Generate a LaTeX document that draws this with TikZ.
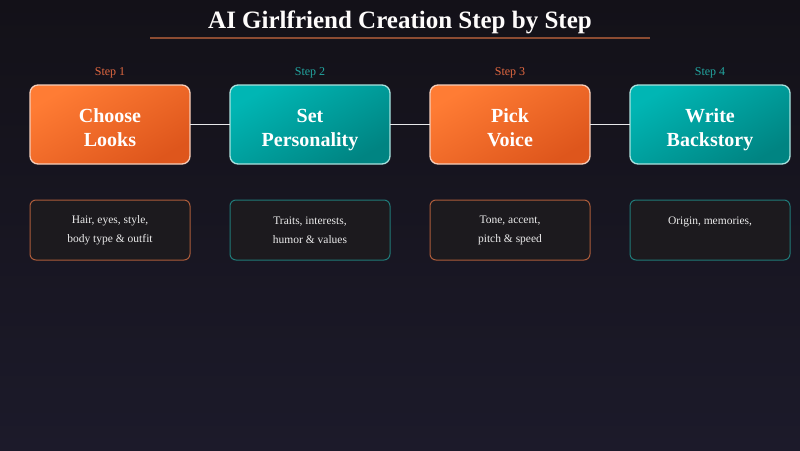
\documentclass[tikz,border=0pt]{standalone}
\usepackage{fontspec}
\setmainfont{Liberation Serif}
\usepackage{xcolor}
\usepackage{tikz}
\usetikzlibrary{positioning}
\definecolor{gfnight}{RGB}{19, 17, 24}
\definecolor{gfdusk}{RGB}{28, 26, 42}
\definecolor{gforange}{RGB}{255, 124, 52}
\definecolor{gforangedeep}{RGB}{222, 86, 28}
\definecolor{gfteal}{RGB}{0, 182, 180}
\definecolor{gftealdeep}{RGB}{0, 132, 130}
\definecolor{gfcard}{RGB}{28, 26, 30}
\definecolor{gfrule}{RGB}{140, 76, 50}
\definecolor{gfpeach}{RGB}{246, 206, 186}
\definecolor{gfmint}{RGB}{170, 226, 222}
\definecolor{gfsteporange}{RGB}{226, 104, 64}
\definecolor{gfstepteal}{RGB}{34, 166, 160}
\definecolor{gfcardorange}{RGB}{172, 92, 58}
\definecolor{gfcardteal}{RGB}{32, 122, 120}

\begin{document}
\begin{tikzpicture}[x=1pt, y=1pt, node distance=40pt,
    stepbox/.style={draw, line width=1.3pt, outer sep=0pt, rounded corners=8pt, minimum width=160pt, minimum height=79pt, align=center, text height=47pt, text depth=4pt, text=white, font=\fontsize{20}{24}\selectfont\bfseries},
    warm/.style={stepbox, draw=gfpeach, top color=gforange, bottom color=gforangedeep, shading angle=30},
    cool/.style={stepbox, draw=gfmint, top color=gfteal, bottom color=gftealdeep, shading angle=30},
    steptag/.style={inner sep=0pt, font=\fontsize{12}{14}\selectfont},
    card/.style={draw, line width=1pt, outer sep=0pt, rounded corners=6pt, fill=gfcard, minimum width=160pt, minimum height=60pt, align=center, text=white!92!black, font=\fontsize{11.5}{19}\selectfont},
    link/.style={line width=1.6pt, white!90!gfdusk}]
    % backdrop
    \shade [top color=gfnight, bottom color=gfdusk] (0,0) rectangle (800,-450);
    \useasboundingbox (0,0) rectangle (800,-450);

    % title
    \node [text=white!94!gfpeach, font=\fontsize{25}{28}\selectfont\bfseries] (title) at (400,-22) {AI Girlfriend Creation Step by Step};
    \draw [gfrule, line width=1.4pt] (150,-38) -- (650,-38);

    % steps
    \node [warm] (looks) at (110,-124.5) {Choose\\Looks};
    \node [cool, right=of looks] (persona) {Set\\Personality};
    \node [warm, right=of persona] (voice) {Pick\\Voice};
    \node [cool, right=of voice] (story) {Write\\Backstory};

    \node [steptag, gfsteporange, above=7pt of looks] (tag1) {Step 1};
    \node [steptag, gfstepteal, above=7pt of persona] (tag2) {Step 2};
    \node [steptag, gfsteporange, above=7pt of voice] (tag3) {Step 3};
    \node [steptag, gfstepteal, above=7pt of story] (tag4) {Step 4};

    \draw [link] (looks) -- (persona);
    \draw [link] (persona) -- (voice);
    \draw [link] (voice) -- (story);

    % details
    \node [card, draw=gfcardorange, below=36pt of looks] (looksinfo) {Hair, eyes, style,\\body type \& outfit};
    \node [card, draw=gfcardteal, below=36pt of persona] (personainfo) {Traits, interests,\\humor \& values};
    \node [card, draw=gfcardorange, below=36pt of voice] (voiceinfo) {Tone, accent,\\pitch \& speed};
    \node [card, draw=gfcardteal, below=36pt of story] (storyinfo) {Origin, memories,\\\mbox{}};
\end{tikzpicture}
\end{document}
